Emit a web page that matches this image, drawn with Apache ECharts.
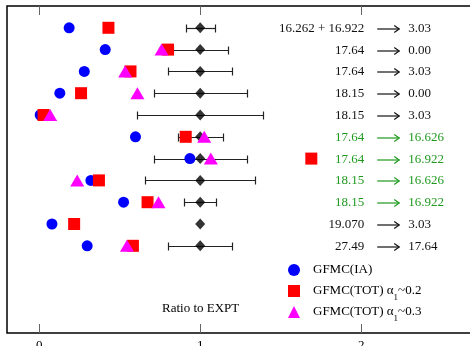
<!DOCTYPE html>
<html>
<head>
<meta charset="utf-8">
<script src="https://cdn.jsdelivr.net/npm/echarts@6/dist/echarts.min.js"></script>
<style>
  html, body { margin: 0; padding: 0; background: #fff; }
  #chart { width: 470px; height: 346px; }
</style>
</head>
<body>
<div id="chart"></div>
<script>
// row index (top to bottom)
const rows = [1, 2, 3, 4, 5, 6, 7, 8, 9, 10, 11];
// experiment: ratio = 1, with error range
const expt = [1, 1, 1, 1, 1, 1, 1, 1, 1, 1, 1];
const errLo = [0.91, 0.83, 0.80, 0.71, 0.61, 0.86, 0.71, 0.66, 0.90, null, 0.80];
const errHi = [1.09, 1.17, 1.20, 1.29, 1.39, 1.14, 1.29, 1.34, 1.10, null, 1.20];
// GFMC ratios
const gfmcIA = [0.186, 0.41, 0.28, 0.128, 0.006, 0.598, 0.936, 0.321, 0.524, 0.079, 0.298];
const gfmcTot2 = [0.43, 0.80, 0.567, 0.26, 0.027, 0.91, 1.69, 0.371, 0.673, 0.217, 0.582];
const gfmcTot3 = [null, 0.76, 0.534, 0.61, 0.068, 1.025, 1.066, 0.236, 0.741, null, 0.545];
// transitions
const fromE = ['16.262 + 16.922', '17.64', '17.64', '18.15', '18.15', '17.64', '17.64', '18.15', '18.15', '19.070', '27.49'];
const toE = ['3.03', '0.00', '3.03', '0.00', '3.03', '16.626', '16.922', '16.626', '16.922', '3.03', '17.64'];
const isGreen = [false, false, false, false, false, true, true, true, true, false, false];
const xTicks = [0, 1, 2];

const FONT = '"Liberation Serif", "Times New Roman", serif';
const GREEN = '#1f9a1f';

const pts = (vals) => vals.map((v, i) => v == null ? null : [v, rows[i]]).filter(d => d);

const chart = echarts.init(document.getElementById('chart'), null, { renderer: 'canvas' });

const xAxisBase = {
  type: 'value',
  min: -0.2,
  max: 2.688,
  axisLine: { show: false, onZero: false },
  splitLine: { show: false },
  axisTick: { inside: true, length: 9, customValues: xTicks, lineStyle: { color: '#666', width: 1 } },
  axisLabel: { customValues: xTicks, margin: 6, fontFamily: FONT, fontSize: 13, color: '#000' }
};

const options = {
  animation: false,
  backgroundColor: '#fff',
  grid: {
    left: 7, top: 6, right: -2, bottom: 13,
    outerBoundsMode: 'none', containLabel: false,
    show: true, borderColor: '#000', borderWidth: 1.5, backgroundColor: 'transparent'
  },
  xAxis: [
    Object.assign({}, xAxisBase, { position: 'bottom' }),
    Object.assign({}, xAxisBase, { position: 'top', axisLabel: { show: false } })
  ],
  yAxis: { type: 'value', min: 0, max: 15, inverse: true, show: false },
  legend: {
    orient: 'vertical',
    left: 288,
    top: 259,
    padding: 0,
    itemWidth: 12,
    itemHeight: 12,
    itemGap: -1,
    selectedMode: false,
    data: [
      { name: 'GFMC(IA)', icon: 'circle' },
      { name: 'GFMC(TOT) 0.2', icon: 'rect' },
      { name: 'GFMC(TOT) 0.3', icon: 'triangle' }
    ],
    formatter: function (name) {
      if (name === 'GFMC(IA)') return '{a|GFMC(IA)}{s| }';
      const v = name.split(' ')[1];
      return '{a|GFMC(TOT) α}{s|1}{b|~' + v + '}';
    },
    textStyle: {
      fontFamily: FONT, fontSize: 13, color: '#000',
      rich: {
        a: { fontFamily: FONT, fontSize: 13, color: '#000', lineHeight: 12, padding: [0, 0, 0, 8] },
        b: { fontFamily: FONT, fontSize: 13, color: '#000', lineHeight: 12 },
        s: { fontFamily: FONT, fontSize: 9, color: '#000', lineHeight: 9, padding: [13, 0, 0, 0] }
      }
    }
  },
  graphic: [
    {
      type: 'text',
      left: 162,
      top: 302,
      style: { text: 'Ratio to EXPT', font: '13px ' + FONT, fill: '#000' }
    }
  ],
  series: [
    {
      type: 'custom',
      name: 'err',
      z: 1,
      silent: true,
      data: rows.map((r, i) => [errLo[i], errHi[i], r]).filter(d => d[0] != null),
      renderItem: function (params, api) {
        const a = api.coord([api.value(0), api.value(2)]);
        const b = api.coord([api.value(1), api.value(2)]);
        const y = Math.round(a[1]) + 0.5;
        const x1 = Math.round(a[0]) + 0.5, x2 = Math.round(b[0]) + 0.5;
        const st = { stroke: '#222', lineWidth: 1.2 };
        return {
          type: 'group',
          children: [
            { type: 'line', shape: { x1: x1, y1: y, x2: x2, y2: y }, style: st },
            { type: 'line', shape: { x1: x1, y1: y - 4, x2: x1, y2: y + 4 }, style: st },
            { type: 'line', shape: { x1: x2, y1: y - 4, x2: x2, y2: y + 4 }, style: st }
          ]
        };
      }
    },
    {
      type: 'scatter',
      name: 'EXPT',
      z: 2,
      symbol: 'diamond',
      symbolSize: [10, 11],
      itemStyle: { color: '#000' },
      data: pts(expt)
    },
    {
      type: 'scatter',
      name: 'GFMC(IA)',
      z: 3,
      symbol: 'circle',
      symbolSize: 11,
      itemStyle: { color: '#0000ff', opacity: 1 },
      data: pts(gfmcIA)
    },
    {
      type: 'scatter',
      name: 'GFMC(TOT) 0.2',
      z: 4,
      symbol: 'rect',
      symbolSize: 12,
      itemStyle: { color: '#ff0000', opacity: 1 },
      data: pts(gfmcTot2)
    },
    {
      type: 'scatter',
      name: 'GFMC(TOT) 0.3',
      z: 5,
      symbol: 'triangle',
      symbolSize: [14, 12],
      itemStyle: { color: '#ff00ff', opacity: 1 },
      data: pts(gfmcTot3)
    },
    {
      type: 'custom',
      name: 'labels',
      z: 6,
      silent: true,
      data: rows.map((r, i) => [2, r, i]),
      renderItem: function (params, api) {
        const i = api.value(2);
        const p = api.coord([api.value(0), api.value(1)]);
        const x = p[0], y = Math.round(p[1]) + 0.5;
        const col = isGreen[i] ? GREEN : '#111';
        const ax1 = x + 16, ax2 = x + 38;
        return {
          type: 'group',
          children: [
            { type: 'text', style: { x: x + 3, y: y, text: fromE[i], font: '13px ' + FONT, fill: col, align: 'right', verticalAlign: 'middle' } },
            { type: 'line', shape: { x1: ax1, y1: y + 0.5, x2: ax2, y2: y + 0.5 }, style: { stroke: col, lineWidth: 1.2 } },
            { type: 'polyline', shape: { points: [[ax2 - 5, y - 3], [ax2, y + 0.5], [ax2 - 5, y + 4]] }, style: { stroke: col, lineWidth: 1.2, fill: 'none' } },
            { type: 'text', style: { x: x + 47, y: y, text: toE[i], font: '13px ' + FONT, fill: col, align: 'left', verticalAlign: 'middle' } }
          ]
        };
      }
    }
  ]
};

chart.setOption(options);
window.addEventListener('resize', function () {
  chart && chart.resize();
});
</script>
</body>
</html>
